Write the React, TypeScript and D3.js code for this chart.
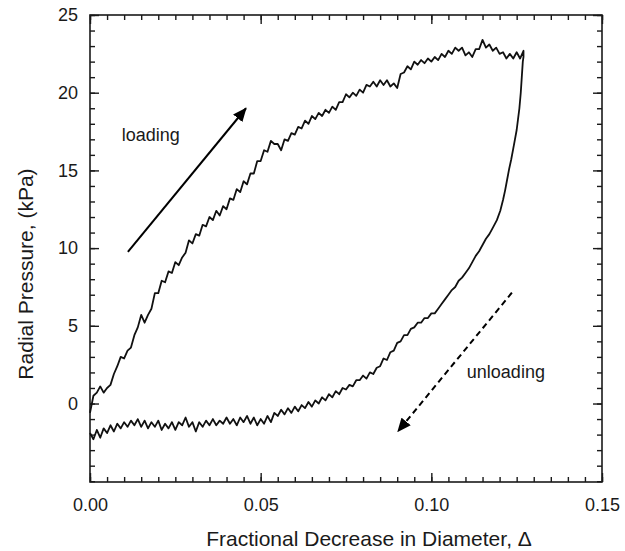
import { useEffect, useRef } from 'react'
import * as d3 from 'd3'

// loading branch [fractional decrease, pressure kPa]
const loadingCurve: [number, number][] = [
  [0.000, -0.6], [0.001, 0.5], [0.002, 0.7], [0.003, 1.1], [0.004, 0.7], [0.005, 1.0], [0.006, 1.2], [0.007, 1.9],
  [0.008, 2.4], [0.009, 3.0], [0.010, 2.9], [0.011, 3.4], [0.012, 3.6], [0.013, 4.4], [0.014, 4.9], [0.015, 5.7],
  [0.016, 5.2], [0.017, 5.7], [0.018, 6.1], [0.019, 7.1], [0.020, 7.1], [0.021, 7.9], [0.022, 7.8], [0.023, 8.5],
  [0.024, 8.4], [0.025, 9.1], [0.026, 8.9], [0.027, 9.4], [0.028, 9.7], [0.029, 10.5], [0.030, 10.3], [0.031, 10.9],
  [0.032, 10.8], [0.033, 11.5], [0.034, 11.4], [0.035, 12.0], [0.036, 11.8], [0.037, 12.4], [0.038, 12.1], [0.039, 12.7],
  [0.040, 12.5], [0.041, 13.2], [0.042, 13.1], [0.043, 13.8], [0.044, 13.6], [0.045, 14.3], [0.046, 14.1], [0.047, 14.8],
  [0.048, 14.8], [0.049, 15.6], [0.050, 15.6], [0.051, 16.3], [0.052, 16.2], [0.053, 16.9], [0.054, 16.7], [0.055, 16.7],
  [0.056, 16.3], [0.057, 17.0], [0.058, 16.9], [0.059, 17.4], [0.060, 17.3], [0.061, 17.8], [0.062, 17.7], [0.063, 18.2],
  [0.064, 18.0], [0.065, 18.5], [0.066, 18.3], [0.067, 18.7], [0.068, 18.5], [0.069, 18.9], [0.070, 18.7], [0.071, 19.1],
  [0.072, 18.9], [0.073, 19.4], [0.074, 19.4], [0.075, 19.9], [0.076, 19.7], [0.077, 20.0], [0.078, 19.8], [0.079, 20.2],
  [0.080, 20.0], [0.081, 20.5], [0.082, 20.4], [0.083, 20.7], [0.084, 20.4], [0.085, 20.8], [0.086, 20.5], [0.087, 20.8],
  [0.088, 20.4], [0.089, 20.6], [0.090, 20.3], [0.091, 21.2], [0.092, 21.3], [0.093, 21.7], [0.094, 21.5], [0.095, 22.0],
  [0.096, 21.8], [0.097, 22.1], [0.098, 21.9], [0.099, 22.2], [0.100, 22.0], [0.101, 22.3], [0.102, 22.1], [0.103, 22.5],
  [0.104, 22.3], [0.105, 22.7], [0.106, 22.5], [0.107, 22.9], [0.108, 22.7], [0.109, 22.9], [0.110, 22.4], [0.111, 22.6],
  [0.112, 22.3], [0.113, 22.8], [0.114, 22.8], [0.115, 23.4], [0.116, 22.9], [0.117, 23.1], [0.118, 22.7], [0.119, 22.9],
  [0.120, 22.5], [0.121, 22.6], [0.122, 22.2], [0.123, 22.5], [0.124, 22.2], [0.125, 22.6], [0.126, 22.2], [0.127, 22.7]
]

// unloading branch
const unloadingCurve: [number, number][] = [
  [0.1270, 22.3], [0.1268, 22.0], [0.1265, 21.0], [0.1262, 20.0], [0.1258, 19.0], [0.1254, 18.3], [0.1250, 17.6],
  [0.1245, 17.0], [0.1240, 16.4], [0.1234, 15.7], [0.1228, 15.1], [0.1222, 14.4], [0.1216, 13.7], [0.1210, 13.1],
  [0.1202, 12.4], [0.1192, 11.8], [0.118, 11.3], [0.117, 10.9], [0.116, 10.6], [0.115, 10.2], [0.114, 9.8],
  [0.113, 9.5], [0.112, 9.1], [0.111, 8.7], [0.110, 8.4], [0.109, 8.1], [0.108, 7.9], [0.107, 7.5], [0.106, 7.3],
  [0.105, 7.0], [0.104, 6.7], [0.103, 6.4], [0.102, 6.1], [0.101, 5.8], [0.100, 5.8], [0.099, 5.5], [0.098, 5.5],
  [0.097, 5.2], [0.096, 5.2], [0.095, 4.9], [0.094, 4.8], [0.093, 4.4], [0.092, 4.4], [0.091, 4.0], [0.090, 3.9],
  [0.089, 3.4], [0.088, 3.3], [0.087, 2.8], [0.086, 2.9], [0.085, 2.4], [0.084, 2.3], [0.083, 1.9], [0.082, 2.0],
  [0.081, 1.6], [0.080, 1.8], [0.079, 1.5], [0.078, 1.5], [0.077, 1.1], [0.076, 1.2], [0.075, 0.9], [0.074, 1.0],
  [0.073, 0.6], [0.072, 0.8], [0.071, 0.4], [0.070, 0.6], [0.069, 0.2], [0.068, 0.4], [0.067, 0.0], [0.066, 0.2],
  [0.065, -0.2], [0.064, 0.1], [0.063, -0.3], [0.062, -0.1], [0.061, -0.5], [0.060, -0.2], [0.059, -0.6], [0.058, -0.3],
  [0.057, -0.7], [0.056, -0.4], [0.055, -0.8], [0.054, -0.6], [0.053, -1.2], [0.052, -0.8], [0.051, -1.3], [0.050, -1.0],
  [0.049, -1.4], [0.048, -0.9], [0.047, -1.3], [0.046, -0.8], [0.045, -1.2], [0.044, -0.9], [0.043, -1.4], [0.042, -1.0],
  [0.041, -1.3], [0.040, -0.9], [0.039, -1.3], [0.038, -1.1], [0.037, -1.4], [0.036, -1.0], [0.035, -1.4], [0.034, -1.1],
  [0.033, -1.5], [0.032, -1.2], [0.031, -1.8], [0.030, -1.2], [0.029, -1.5], [0.028, -0.9], [0.027, -1.4], [0.026, -1.2],
  [0.025, -1.7], [0.024, -1.2], [0.023, -1.6], [0.022, -1.3], [0.021, -1.7], [0.020, -1.1], [0.019, -1.5], [0.018, -1.2],
  [0.017, -1.6], [0.016, -1.1], [0.015, -1.5], [0.014, -1.0], [0.013, -1.4], [0.012, -1.1], [0.011, -1.5], [0.010, -1.2],
  [0.009, -1.6], [0.008, -1.3], [0.007, -1.8], [0.006, -1.4], [0.005, -1.9], [0.004, -1.6], [0.003, -2.2], [0.002, -1.7],
  [0.001, -2.3], [0.000, -1.9]
]

const xMajorTicks = [0, 0.05, 0.10, 0.15]
const yMajorTicks = [0, 5, 10, 15, 20, 25]

// arrows: [x0, y0, x1, y1] in data units
const loadingArrow = [0.0111, 9.76, 0.0457, 19.0]
const unloadingArrow = [0.1236, 7.13, 0.0902, -1.8]

const W = 625
const H = 551
const FONT = '"Liberation Sans", Arial, Helvetica, sans-serif'

const App = () => {
  const svgRef = useRef<SVGSVGElement>(null)

  useEffect(() => {
    const margin = { top: 15, right: 23, bottom: 69, left: 90 }
    const width = W - margin.left - margin.right
    const height = H - margin.top - margin.bottom

    const root = d3.select(svgRef.current)
    root.selectAll('*').remove()

    const defs = root.append('defs')
    defs.append('marker')
      .attr('id', 'head')
      .attr('markerUnits', 'userSpaceOnUse')
      .attr('viewBox', '0 0 14 12')
      .attr('refX', 13)
      .attr('refY', 6)
      .attr('markerWidth', 14)
      .attr('markerHeight', 12)
      .attr('orient', 'auto')
      .append('path')
      .attr('d', 'M0,0 L14,6 L0,12 Z')
      .attr('fill', '#000')

    const svg = root.append('g')
      .attr('transform', `translate(${margin.left},${margin.top})`)

    const x = d3.scaleLinear().domain([0, 0.15]).range([0, width])
    const y = d3.scaleLinear().domain([-5.05, 25]).range([height, 0])

    const xMinor = d3.range(0, 0.1501, 0.005)
    const yMinor = d3.range(-5, 25.01, 1)

    const styleAxis = (g: any) => {
      g.select('.domain').remove()
      g.selectAll('line').attr('stroke', '#1a1a1a').attr('stroke-width', 1.4)
      g.selectAll('text').attr('fill', '#1a1a1a').style('font-family', FONT).style('font-size', '18px')
    }

    // minor ticks
    svg.append('g').attr('transform', `translate(0,${height})`)
      .call(d3.axisBottom(x).tickValues(xMinor).tickSize(-5).tickFormat(() => '')).call(styleAxis)
    svg.append('g')
      .call(d3.axisTop(x).tickValues(xMinor).tickSize(-5).tickFormat(() => '')).call(styleAxis)
    svg.append('g')
      .call(d3.axisLeft(y).tickValues(yMinor).tickSize(-5).tickFormat(() => '')).call(styleAxis)
    svg.append('g').attr('transform', `translate(${width},0)`)
      .call(d3.axisRight(y).tickValues(yMinor).tickSize(-5).tickFormat(() => '')).call(styleAxis)

    // major ticks with labels
    svg.append('g').attr('transform', `translate(0,${height})`)
      .call(d3.axisBottom(x).tickValues(xMajorTicks).tickSize(-9).tickPadding(16).tickFormat(d3.format('.2f'))).call(styleAxis)
    svg.append('g')
      .call(d3.axisTop(x).tickValues(xMajorTicks).tickSize(-9).tickFormat(() => '')).call(styleAxis)
    svg.append('g')
      .call(d3.axisLeft(y).tickValues(yMajorTicks).tickSize(-9).tickPadding(12).tickFormat(d3.format('d'))).call(styleAxis)
    svg.append('g').attr('transform', `translate(${width},0)`)
      .call(d3.axisRight(y).tickValues(yMajorTicks).tickSize(-9).tickFormat(() => '')).call(styleAxis)

    // frame
    svg.append('rect')
      .attr('width', width)
      .attr('height', height)
      .attr('fill', 'none')
      .attr('stroke', '#1a1a1a')
      .attr('stroke-width', 1.6)

    const line = d3.line<[number, number]>()
      .x(d => x(d[0]))
      .y(d => y(d[1]))

    svg.append('path')
      .datum(loadingCurve.concat(unloadingCurve))
      .attr('fill', 'none')
      .attr('stroke', '#111')
      .attr('stroke-width', 1.8)
      .attr('stroke-linejoin', 'round')
      .attr('d', line)

    svg.append('line')
      .attr('x1', x(loadingArrow[0])).attr('y1', y(loadingArrow[1]))
      .attr('x2', x(loadingArrow[2])).attr('y2', y(loadingArrow[3]))
      .attr('stroke', '#000').attr('stroke-width', 2)
      .attr('marker-end', 'url(#head)')

    svg.append('line')
      .attr('x1', x(unloadingArrow[0])).attr('y1', y(unloadingArrow[1]))
      .attr('x2', x(unloadingArrow[2])).attr('y2', y(unloadingArrow[3]))
      .attr('stroke', '#000').attr('stroke-width', 2)
      .attr('stroke-dasharray', '6,4')
      .attr('marker-end', 'url(#head)')

    svg.append('text')
      .attr('x', x(0.0093)).attr('y', y(16.9))
      .style('font-family', FONT).style('font-size', '18px').attr('fill', '#1a1a1a')
      .text('loading')

    svg.append('text')
      .attr('x', x(0.1104)).attr('y', y(1.65))
      .style('font-family', FONT).style('font-size', '18px').attr('fill', '#1a1a1a')
      .text('unloading')

    // axis titles
    root.append('text')
      .attr('x', 369).attr('y', 546)
      .style('text-anchor', 'middle')
      .style('font-family', FONT).style('font-size', '21px').attr('fill', '#1a1a1a')
      .text('Fractional Decrease in Diameter, Δ')

    root.append('text')
      .attr('transform', 'translate(33,274) rotate(-90)')
      .style('text-anchor', 'middle')
      .style('font-family', FONT).style('font-size', '21px').attr('fill', '#1a1a1a')
      .text('Radial Pressure, (kPa)')
  }, [])

  return (
    <svg
      ref={svgRef}
      width={W}
      height={H}
      style={{ position: 'absolute', left: 0, top: 0, background: '#fff' }}
    />
  )
}

export default App
